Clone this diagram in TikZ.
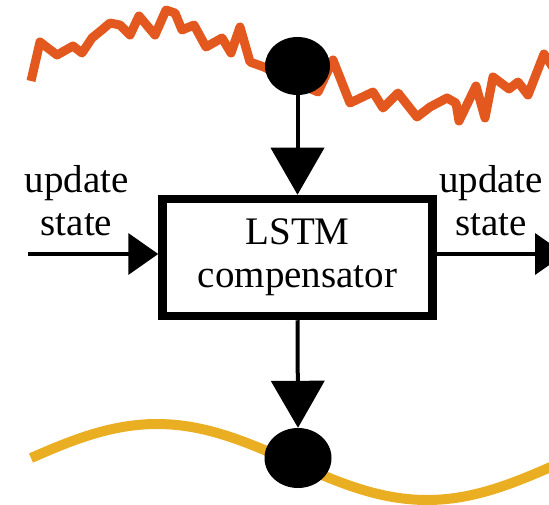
\documentclass[tikz,border=0pt]{standalone}
\usepackage{fontspec}
\setmainfont{Liberation Serif}
\usetikzlibrary{arrows.meta,shapes.geometric}
\definecolor{noisyorange}{RGB}{226,88,30}
\definecolor{smoothyellow}{RGB}{234,174,34}
\begin{document}
\begin{tikzpicture}[x=1pt,y=-1pt,
  txt/.style={font=\fontsize{39}{43}\selectfont, inner sep=0pt, align=center},
  compbox/.style={draw, line width=8.5pt, minimum width=270pt, minimum height=117pt, inner sep=0pt, txt},
  dot/.style={ellipse, fill=black, inner sep=0pt},
  varrow/.style={line width=4pt, -{Triangle[length=47pt,width=53pt]}},
  harrow/.style={line width=4pt, -{Triangle[length=30pt,width=41pt]}},
  signal/.style={line width=9pt, line join=round}
]
\useasboundingbox (0,0) rectangle (549,505);
% noisy input signal
\draw[signal, noisyorange] (31,81) -- (40,42) -- (57,55) -- (73,46) -- (82,53) -- (92,38) -- (103,29) -- (110,23) -- (120,25) -- (130,35) -- (139,16) -- (155,35) -- (166,10) -- (175,13) -- (182,30) -- (194,25) -- (206,47) -- (222,38) -- (231,53) -- (240,27) -- (250,62) -- (264,67) -- (290,80) -- (318,92) -- (333,60) -- (350,103) -- (373,92) -- (383,108) -- (398,93) -- (417,117) -- (430,107) -- (447,98) -- (456,103) -- (459,121) -- (476,86) -- (485,118) -- (493,77) -- (509,89) -- (518,82) -- (528,95) -- (544,54) -- (556,72);
% smooth output signal
\draw[signal, smoothyellow, line width=10pt, domain=31:560, samples=120, smooth] plot (\x, {462-38*sin((\x-22)/540*360)});
% nodes
\node[dot, minimum width=65pt, minimum height=58pt] (top) at (297.5,66) {};
\node[compbox] (comp) at (297.5,257.5) {LSTM\\compensator};
\node[dot, minimum width=67pt, minimum height=60pt] (bot) at (298,458) {};
\node[txt] (lin) at (76.5,201) {update\\state};
\node[txt] (lout) at (491,201) {update\\state};
\coordinate (inS) at (28,254);
\coordinate (outE) at (565,254);
% connectors
\draw[varrow] (top.south) -- (comp.north);
\draw[varrow] (comp.south) -- (bot.north);
\draw[harrow] (inS) -- (inS -| comp.west);
\draw[harrow] (comp.east |- outE) -- (outE);
\end{tikzpicture}
\end{document}
